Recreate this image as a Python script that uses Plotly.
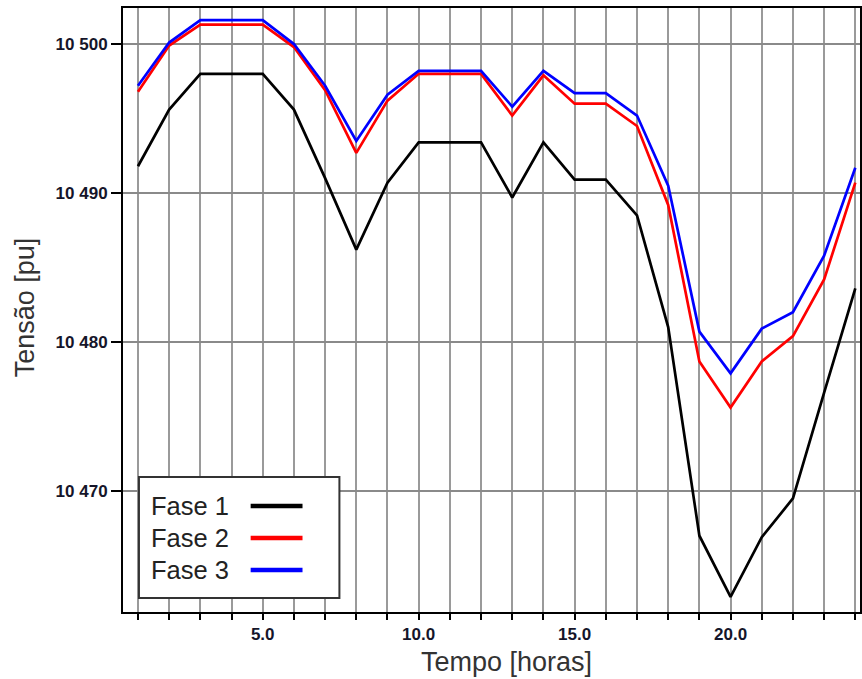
import plotly.graph_objects as go

# Hourly voltage profile per phase (pu)
horas = list(range(1, 25))
fase1 = [1.04918, 1.04956, 1.04980, 1.04980, 1.04980, 1.04956, 1.04910, 1.04862,
         1.04907, 1.04934, 1.04934, 1.04934, 1.04897, 1.04934, 1.04909, 1.04909,
         1.04885, 1.04810, 1.04670, 1.04629, 1.04669, 1.04695, 1.04766, 1.04836]
fase2 = [1.04968, 1.04999, 1.05013, 1.05013, 1.05013, 1.04998, 1.04969, 1.04927,
         1.04962, 1.04980, 1.04980, 1.04980, 1.04952, 1.04979, 1.04960, 1.04960,
         1.04945, 1.04892, 1.04787, 1.04756, 1.04787, 1.04804, 1.04842, 1.04907]
fase3 = [1.04972, 1.05001, 1.05016, 1.05016, 1.05016, 1.05000, 1.04972, 1.04935,
         1.04966, 1.04982, 1.04982, 1.04982, 1.04958, 1.04982, 1.04967, 1.04967,
         1.04952, 1.04905, 1.04807, 1.04779, 1.04809, 1.04820, 1.04858, 1.04917]

series_names = ["Fase 1", "Fase 2", "Fase 3"]
series_colors = ["#000000", "#ff0000", "#0000ff"]

x_tick_labels = {5: "5.0", 10: "10.0", 15: "15.0", 20: "20.0"}
y_tick_vals = [1.0470, 1.0480, 1.0490, 1.0500]
y_tick_text = ["10 470", "10 480", "10 490", "10 500"]

fig = go.Figure()
for name, ys, col in zip(series_names, [fase1, fase2, fase3], series_colors):
    fig.add_trace(go.Scatter(x=horas, y=ys, mode="lines", name=name,
                             line=dict(color=col, width=2.7), showlegend=False))

tick_font = dict(family="Arial", size=17, color="#15152a")

fig.update_xaxes(
    range=[0.52, 24.15],
    tickmode="array",
    tickvals=horas,
    ticktext=[f"<b>{x_tick_labels[h]}</b>" if h in x_tick_labels else "" for h in horas],
    ticks="outside", ticklen=6, tickwidth=1.5, tickcolor="black",
    showgrid=True, gridcolor="#9a9a9a", gridwidth=2,
    showline=True, linecolor="black", linewidth=2, mirror=True,
    zeroline=False,
    tickfont=tick_font,
)
fig.update_yaxes(
    range=[1.046188, 1.050242],
    tickmode="array",
    tickvals=y_tick_vals,
    ticktext=[f"<b>{t}</b>" for t in y_tick_text],
    ticks="outside", ticklen=10, tickwidth=1.5, tickcolor="black",
    showgrid=True, gridcolor="#8a8a8a", gridwidth=1.5,
    showline=True, linecolor="black", linewidth=2, mirror=True,
    zeroline=False,
    tickfont=tick_font,
)

title_font = dict(family="Arial", size=27, color="#333333")
annotations = [
    dict(xref="paper", yref="paper", x=(508 - 123) / 739, y=(612 - 662) / 604,
         text="Tempo [horas]", showarrow=False, xanchor="center", yanchor="middle",
         font=title_font),
    dict(xref="paper", yref="paper", x=(25 - 123) / 739, y=(612 - 307) / 604,
         text="Tensão [pu]", showarrow=False, xanchor="center", yanchor="middle",
         textangle=-90, font=title_font),
]

# Legend box drawn in paper coordinates: label on the left, line sample on the right
shapes = [dict(type="rect", xref="paper", yref="paper",
               x0=(139 - 123) / 739, x1=(340 - 123) / 739,
               y0=(612 - 598) / 604, y1=(612 - 477) / 604,
               line=dict(color="#333333", width=2), fillcolor="white", layer="above")]
for i, (name, col) in enumerate(zip(series_names, series_colors)):
    ypix = 506 + i * 32
    yp = (612 - ypix) / 604
    annotations.append(dict(xref="paper", yref="paper", x=(149 - 123) / 739, y=yp,
                            text=name, showarrow=False, xanchor="left", yanchor="middle",
                            font=dict(family="Arial", size=25.5, color="#222222")))
    shapes.append(dict(type="line", xref="paper", yref="paper",
                       x0=(251 - 123) / 739, x1=(303 - 123) / 739, y0=yp, y1=yp,
                       line=dict(color=col, width=4.5), layer="above"))

fig.update_layout(
    width=862, height=679,
    margin=dict(l=123, r=0, t=8, b=67),
    paper_bgcolor="white", plot_bgcolor="white",
    shapes=shapes, annotations=annotations,
)

fig.write_html("out.html")
